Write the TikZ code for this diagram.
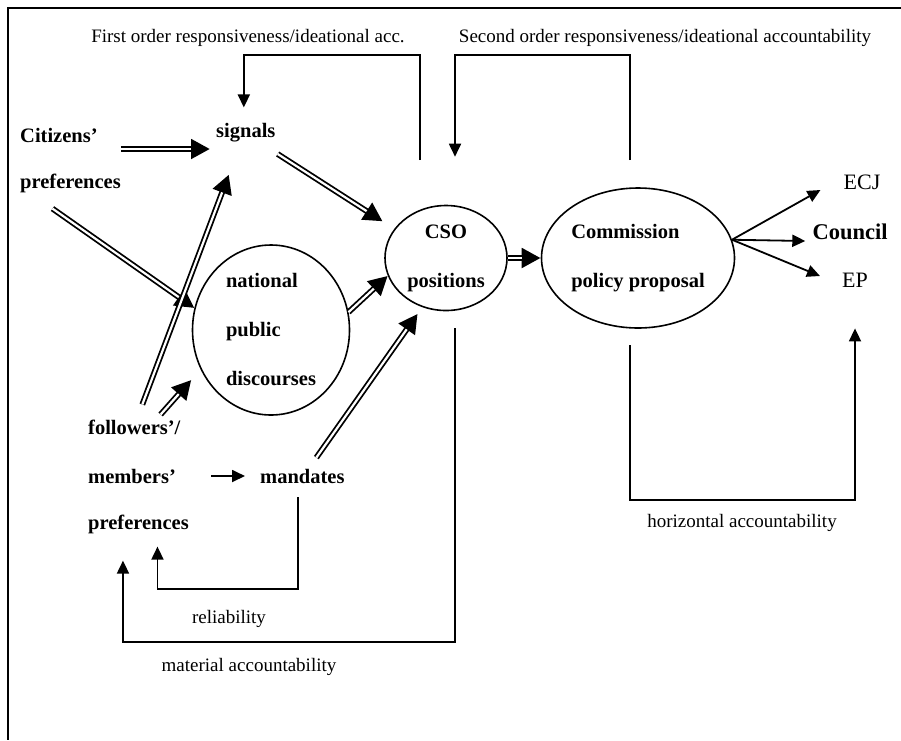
\documentclass[tikz,border=0pt]{standalone}
\usepackage{fontspec}
\setmainfont{Liberation Serif}
\usetikzlibrary{arrows.meta}
\usetikzlibrary{shapes.geometric}

\begin{document}
\begin{tikzpicture}[x=1pt,y=-1pt,
  lbl/.style={font=\fontsize{19}{23}\selectfont,inner sep=0pt},
  blbl/.style={font=\fontsize{20.5}{25}\selectfont\bfseries,inner sep=0pt},
  oval/.style={draw,ellipse,line width=1.6pt,inner sep=0pt,align=left,font=\fontsize{20.5}{49}\selectfont\bfseries},
  dbl/.style={line width=5.8pt,-{Triangle[length=19pt,width=19pt]},
    postaction={draw=white,line width=2.2pt,shorten >=19pt,-}},
  sgl/.style={line width=1.8pt,-{Triangle[length=13pt,width=12pt]}}]
\useasboundingbox (0,0) rectangle (901,740);
\draw[line width=2pt] (901,8) -- (8,8) -- (8,740);
\foreach \n/\x/\y/\t in {cit/20/135/Citizens’, cpref/20/183/preferences, sig/216/133/signals,
    fol/88/427/{followers’/}, mem/88/476/members’, mpref/88/524/preferences, man/260/476/mandates}
   \node[blbl,anchor=west] (\n) at (\x,\y) {\t};
\node[oval,minimum width=157pt,minimum height=170pt] (npd) at (271,330) {national\\public\\discourses};
\node[oval,align=center,minimum width=122pt,minimum height=105pt] (cso) at (446,258) {CSO\\positions};
\node[oval,minimum width=193pt,minimum height=140pt] (com) at (638,258) {Commission\\policy proposal};
\node[lbl,font=\fontsize{22}{25}\selectfont] (ecj) at (862,182) {ECJ};
\node[blbl,font=\fontsize{22.5}{25}\selectfont\bfseries] (council) at (850,232) {Council};
\node[lbl,font=\fontsize{22}{25}\selectfont] (ep) at (855,280) {EP};
\node[lbl] (fo) at (248,38) {First order responsiveness/ideational acc.};
\node[lbl] (so) at (665,38) {Second order responsiveness/ideational accountability};
\node[lbl] (ha) at (742,523) {horizontal accountability};
\node[lbl] (rl) at (229,619) {reliability};
\node[lbl] (ma) at (249,667) {material accountability};
\draw[dbl] ([shift={(23,14)}]cit.east) -- ([shift={(-6,16)}]sig.west);
\draw[dbl] ([shift={(2,21)}]sig.east) -- ([shift={(-12,-7)}]cso.150);
\draw[dbl] ([shift={(-18,16)}]cpref.south) -- (npd.164);
\draw[dbl] ([shift={(8,-15)}]fol.north) -- ([shift={(-17,32)}]sig.south);
\draw[dbl] ([shift={(-20,-5)}]fol.north east) -- ([shift={(-11,7)}]npd.212);
\draw[dbl] (npd.13) -- (cso.197);
\draw[dbl] ([shift={(14,-11)}]man.north) -- ([shift={(-3.5,7)}]cso.243);
\draw[dbl] (cso) -- (com);
\draw[sgl] ([xshift=35pt]mem.east) -- ([xshift=-15pt]man.west);
\foreach \t/\dx/\dy in {ecj/-23/8, council/-7/9, ep/-22/-4}
   \draw[sgl] (com.11) -- ([shift={(\dx,\dy)}]\t.west);
\coordinate (fo-in) at (420,160);
\draw[sgl] (fo-in) -- ++(0,-105) -| ([shift={(-2,-16)}]sig.north);
\coordinate (so-in) at (630,160);
\draw[sgl] (so-in) -- ++(0,-105) -| ([shift={(9,-48)}]cso.north);
\coordinate (ha-in) at (630,345);
\draw[sgl] (ha-in) -- ++(0,155) -| ([yshift=-41pt]ep.south);
\coordinate (rl-in) at (298,497);
\draw[sgl] (rl-in) -- ++(0,92) -| ([shift={(19,13)}]mpref.south);
\coordinate (ma-in) at (455,328);
\draw[sgl] (ma-in) -- ++(0,314) -| ([shift={(-15.5,27)}]mpref.south);
\end{tikzpicture}
\end{document}
